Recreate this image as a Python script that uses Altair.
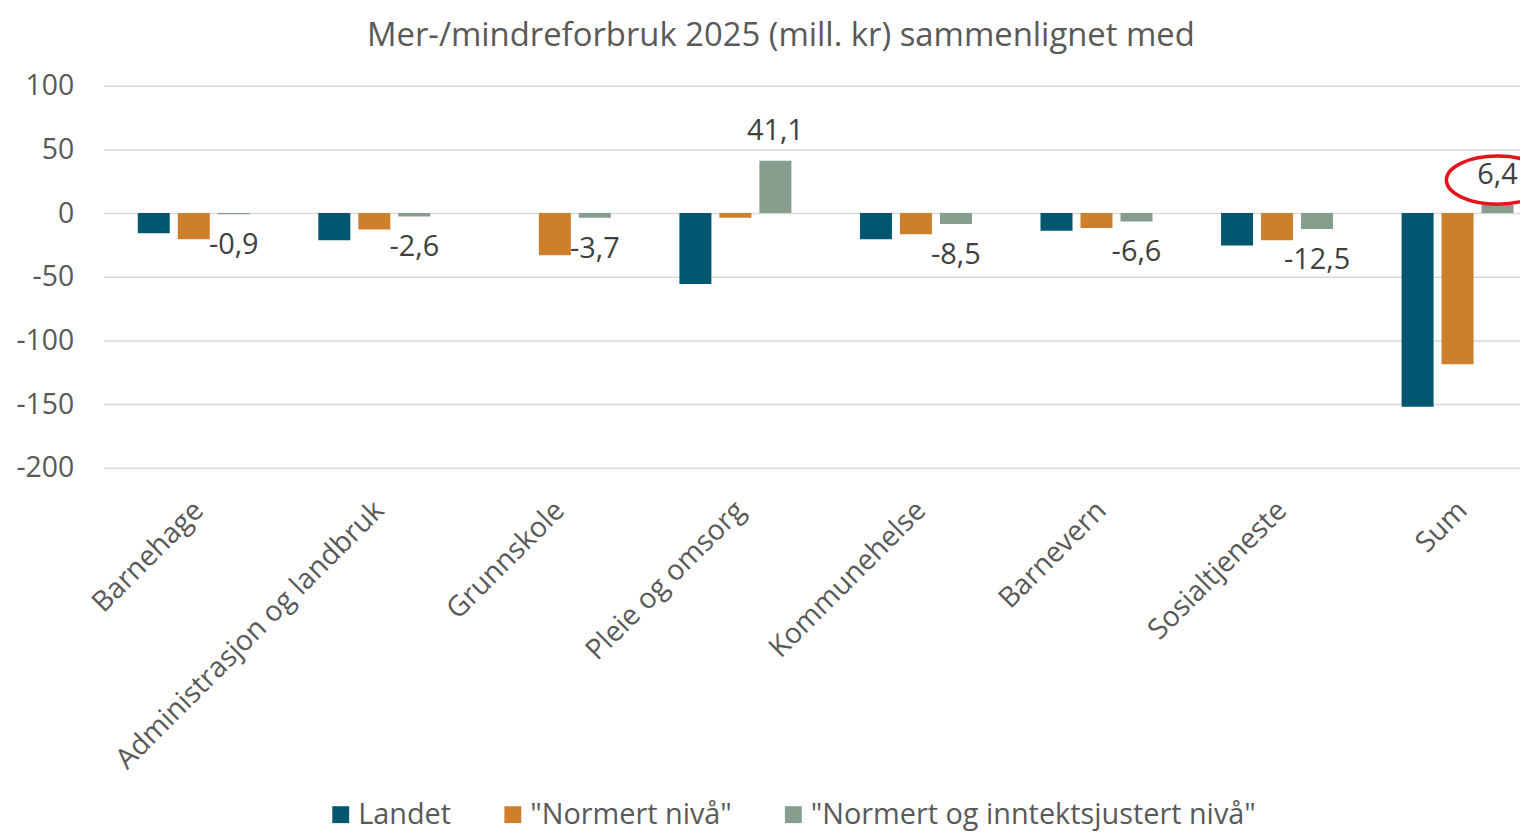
import altair as alt
import pandas as pd

categories = ["Barnehage", "Administrasjon og landbruk", "Grunnskole", "Pleie og omsorg",
              "Kommunehelse", "Barnevern", "Sosialtjeneste", "Sum"]
series_names = ["Landet", "\"Normert nivå\"", "\"Normert og inntektsjustert nivå\""]
landet = [-15.9, -21.4, 0.0, -55.7, -20.6, -13.8, -25.5, -152.0]
normert = [-20.6, -12.8, -33.1, -3.7, -16.7, -11.7, -21.3, -118.8]
justert = [-0.9, -2.6, -3.7, 41.1, -8.5, -6.6, -12.5, 6.4]
colors = ["#02566F", "#CE7F2C", "#879D8E"]
y_ticks = [100, 50, 0, -50, -100, -150, -200]
title_text = "Mer-/mindreforbruk 2025 (mill. kr) sammenlignet med"
highlight_category = "Sum"

rows = []
for name, vals in zip(series_names, [landet, normert, justert]):
    for cat, v in zip(categories, vals):
        rows.append({"Kategori": cat, "Serie": name, "Verdi": v,
                     "Etikett": f"{v:.1f}".replace(".", ",")})
df = pd.DataFrame(rows)

FONT = "Open Sans"
GREY = "#595959"

x_enc = alt.X("Kategori:N", sort=categories,
              scale=alt.Scale(range=[0, 1452], paddingInner=0.3355, paddingOuter=0.16775),
              axis=alt.Axis(title=None, labelAngle=-45, labelFontSize=28.5, labelColor=GREY,
                            labelFont=FONT, domain=False, ticks=False, labelPadding=28,
                            labelOffset=-5, labelLimit=600))
xoff_enc = alt.XOffset("Serie:N", sort=series_names,
                       scale=alt.Scale(paddingInner=0.2, paddingOuter=0.1))
y_enc = alt.Y("Verdi:Q", scale=alt.Scale(domain=[-200, 100], nice=False, zero=True),
              axis=alt.Axis(values=y_ticks, title=None, labelFontSize=28.5, labelColor=GREY,
                            labelFont=FONT, domain=False, ticks=False, labelPadding=30,
                            labelExpr="replace(datum.label, '\u2212', '-')",
                            gridColor="#D9D9D9", gridWidth=1.5))

base = alt.Chart(df)

bars = base.mark_bar().encode(
    x=x_enc, xOffset=xoff_enc, y=y_enc,
    color=alt.Color("Serie:N", sort=series_names,
                    scale=alt.Scale(domain=series_names, range=colors),
                    legend=alt.Legend(title=None, orient="none", legendX=224, legendY=718,
                                      direction="horizontal", symbolType="square",
                                      symbolSize=289, symbolStrokeWidth=0,
                                      labelFontSize=29, labelColor=GREY, labelFont=FONT,
                                      columnPadding=47, labelOffset=3, labelLimit=800)),
)

third = series_names[2]
neg_labels = base.transform_filter(
    (alt.datum.Serie == third) & (alt.datum.Verdi < 0)
).mark_text(dy=31, fontSize=29, font=FONT, color="#404040", baseline="middle").encode(
    x=x_enc, xOffset=xoff_enc, y=y_enc, text="Etikett:N")

pos_labels = base.transform_filter(
    (alt.datum.Serie == third) & (alt.datum.Verdi >= 0)
).mark_text(dy=-30, fontSize=29, font=FONT, color="#404040", baseline="middle").encode(
    x=x_enc, xOffset=xoff_enc, y=y_enc, text="Etikett:N")

ellipse = base.transform_filter(
    (alt.datum.Serie == third) & (alt.datum.Kategori == highlight_category)
).mark_point(
    shape="M -1 0 A 1 0.47 0 1 0 1 0 A 1 0.47 0 1 0 -1 0 Z",
    size=10600, filled=False, stroke="#E8141B", strokeWidth=3.5, opacity=1, yOffset=-25,
).encode(x=x_enc, xOffset=xoff_enc, y=y_enc)

chart = alt.layer(bars, neg_labels, pos_labels, ellipse).properties(
    width=1424, height=384,
    title=alt.Title(title_text, fontSize=33, color=GREY, font=FONT, fontWeight="normal",
                    anchor="middle", frame="group", dx=-31, offset=19),
    autosize=alt.AutoSizeParams(type="none"),
    padding={"left": 96, "top": 76, "right": 0, "bottom": 366},
).configure_view(stroke=None)

chart.save("out.html", embed_options={"renderer": "svg", "actions": False})
